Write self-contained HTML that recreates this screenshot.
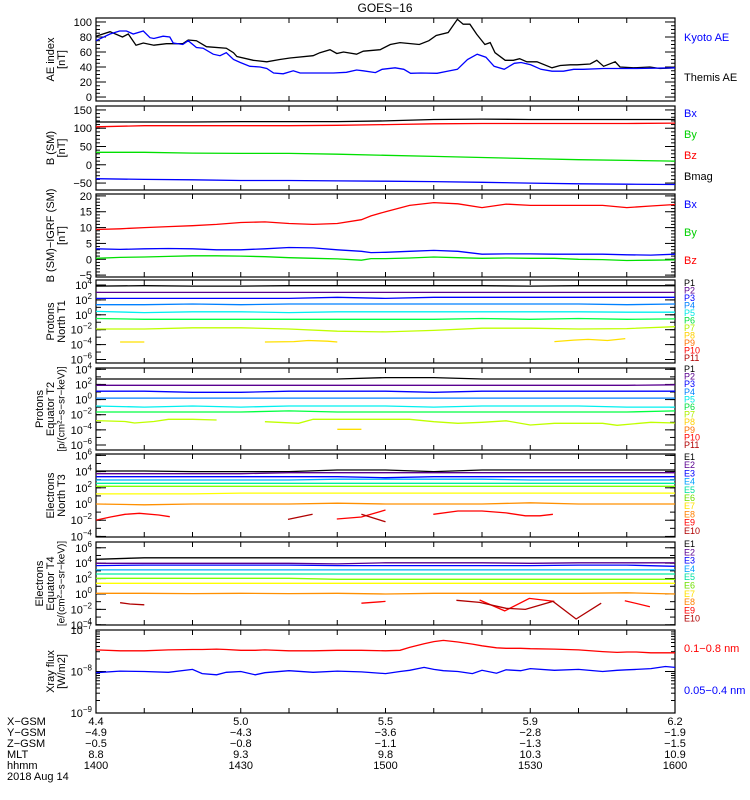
<!DOCTYPE html>
<html><head><meta charset="utf-8">
<style>
html,body{margin:0;padding:0;background:#fff;width:750px;height:800px;overflow:hidden}
svg{display:block;font-family:"Liberation Sans",sans-serif}
</style></head>
<body>
<svg id="chart" width="750" height="800" viewBox="0 0 750 800" xmlns="http://www.w3.org/2000/svg">
<text x="385" y="12" font-size="12" text-anchor="middle">GOES−16</text>
<g id="panels"></g>
<g id="bottom" font-size="11">
<text x="7" y="725">X−GSM</text>
<text x="7" y="736">Y−GSM</text>
<text x="7" y="747">Z−GSM</text>
<text x="7" y="758">MLT</text>
<text x="7" y="769">hhmm</text>
<text x="7" y="780">2018 Aug 14</text>
</g>
</svg>
<script>
// ---------- data ----------
const tickTimes = [0,30,60,90,120];
const xgsmLabels = ["4.4","5.0","5.5","5.9","6.2"];
const ygsmLabels = ["−4.9","−4.3","−3.6","−2.8","−1.9"];
const zgsmLabels = ["−0.5","−0.8","−1.1","−1.3","−1.5"];
const mltLabels = ["8.8","9.3","9.8","10.3","10.9"];
const hhmmLabels = ["1400","1430","1500","1530","1600"];

const themisT = [0,2.9,5.5,6.7,8.3,9.8,12,14.6,18,19.1,20.8,22.9,27,28.5,29.2,32.6,35.4,38.1,40.2,45,46.4,48.5,49.9,51.3,54,55.4,58.9,61,63,67,69,70.5,73,74.9,76.1,77.5,78.9,80.6,81.7,82.7,84.8,86.5,87.8,89.3,91.4,94.5,96.2,98.3,99.7,102.4,103.8,105.2,107.6,108.6,111.4,114.8,116.9,120];
const themisV = [81,87,80,84,69,72,69,71,71,76,75,67,65,59,54,49,47,50,52,55,59,63,58,60,57,61,63,70,72.5,70,75,82,86,103.6,97,97,83.6,70,72.5,59,49,49,51,47,47,39,42,43,43,44,49,41,47,40,39,40,38,39];
const kyotoT = [0,2.9,4.9,6.3,7.7,9.8,11.2,12,13.9,15.3,16,18,19.1,20.8,22.2,24.3,25.7,27,28.5,29.9,31.9,34,35.4,36.8,38.8,40.9,42.3,45.7,49.2,51.9,54,55.4,57.9,59.3,62,63.8,65.2,67.3,70.7,72.8,74.9,77,79,80.8,82.5,84.6,86.7,88.1,90.1,92.2,94.5,96.9,99,101,105.2,112.1,120];
const kyotoV = [75,84,88,88,84,88,79,78,81,80,72,70,75,66,65,57,55,59,50,46,41,40,38,32,31,35,32,32,32,33,36,35,32.5,37,39,37,31.6,32,31.6,34.4,37,50,57,53,41,37,45,46,43,37,34.4,34.4,37,37,38,38,39];

const gridT = [0,10,20,30,40,50,60,70,80,90,100,110,120];
const bmagV = [117,117,117,118,118,118,120,124,125,124,124,124,124];
const bxV = [-38,-40,-41,-43,-43,-44,-45,-46,-48,-50,-52,-53,-54];
const byV = [34,34,32,31,31,29,26,23,20,17,14,12,10];
const bzV = [104,107,107,107,107,108,110,112,113,113,113,113,114];

const dT = [0,5,10,15,20,25,30,35,40,45,50,55,57,60,65,70,75,80,85,90,95,100,105,110,115,120];
const dBzV = [9.4,9.6,10,10.3,10.6,11,11.6,11.8,11.3,11,11.3,12.5,13.7,15,17,17.9,17.5,16.3,17.4,17,17,17,17,16.3,16.8,17.3];
const dBxV = [3.3,3.1,3.3,3.4,3.3,3.0,3.0,3.3,3.7,3.6,3.0,2.5,2.1,2.2,2.5,2.8,2.5,1.6,1.7,1.7,1.6,1.6,1.6,1.4,1.3,1.6];
const dByV = [0.3,0.6,0.7,0.9,1.1,1.1,1.0,0.8,0.5,0.3,0.1,-0.3,0.2,0.2,0.4,0.7,0.5,0.3,0.4,0.3,0.3,0.0,-0.1,-0.4,-0.3,-0.2];

// log10 flux values
const t1P1 = [3.85,3.9,3.85,3.85,3.9,3.9,3.9,3.9,3.9,3.85,3.9,3.9,3.9];
const t1P2 = [3,3,3,3,3,3,3,3,3,3,3,3,3];
const t1P3 = [2.2,2.2,2.2,2.2,2.2,2.35,2.2,2.35,2.35,2.35,2.35,2.35,2.35];
const t1P4 = [1.35,1.35,1.45,1.35,1.45,1.45,1.45,1.45,1.45,1.45,1.45,1.35,1.45];
const t1P5 = [0.45,0.3,0.4,0.4,0.3,0.4,0.4,0.4,0.4,0.4,0.4,0.35,0.35];
const t1P6 = [-0.5,-0.6,-0.6,-0.6,-0.6,-0.6,-0.6,-0.6,-0.5,-0.6,-0.5,-0.6,-0.55];
const t1P7 = [-1.9,-1.9,-1.75,-1.75,-1.9,-2.2,-2.3,-2.1,-1.8,-1.8,-1.9,-1.85,-1.6];
const t1P8T = [5,10,null,35,41,44,48,50,null,95,99,102,106,109.7];
const t1P8V = [-3.65,-3.65,null,-3.65,-3.6,-3.45,-3.55,-3.65,null,-3.6,-3.4,-3.3,-3.45,-3.2];

const t2P1 = [2.72,2.72,2.72,2.72,2.72,2.72,2.9,2.9,2.72,2.72,2.72,2.72,2.72];
const t2P2 = [1.88,1.88,1.88,1.88,1.88,1.88,1.88,1.88,1.88,1.88,1.88,1.88,1.95];
const t2P3 = [1.1,1.1,0.96,0.96,1.1,1.1,1.1,0.96,1.1,1.1,1.1,1.1,1.1];
const t2P4 = [0.2,0.2,0.2,0.2,0.2,0.2,0.2,0.2,0.2,0.2,0.2,0.2,0.2];
const t2P5 = [-0.85,-1.0,-0.85,-1.0,-0.85,-0.85,-0.85,-1.0,-0.85,-0.85,-0.85,-1.0,-1.0];
const t2P6 = [-1.64,-1.64,-1.64,-1.64,-1.5,-1.64,-1.64,-1.64,-1.64,-1.64,-1.64,-1.64,-1.5];
const t2P7T = [0,6,8,12,15,20,25,null,35,42,45,55,65,70,75,80,85,90,95,105,108,115,120];
const t2P7V = [-2.78,-2.9,-3.1,-2.9,-2.6,-2.6,-2.7,null,-2.92,-3.13,-2.6,-2.6,-2.6,-2.92,-3.13,-3.0,-2.8,-3.36,-3.13,-3.13,-3.4,-3.0,-3.1];
const t2P8T = [50,55];
const t2P8V = [-3.93,-3.93];

const t3E1 = [4.07,4.07,4.0,4.0,4.0,4.2,4.2,4.0,4.2,4.2,4.2,4.2,4.2];
const t3E2 = [3.74,3.74,3.74,3.74,3.86,3.86,3.86,3.86,3.86,3.86,3.86,3.86,3.86];
const t3E3 = [3.37,3.37,3.37,3.37,3.37,3.37,3.25,3.37,3.37,3.37,3.37,3.37,3.37];
const t3E4 = [2.96,2.96,2.96,2.96,2.96,3.06,3.06,3.06,3.06,2.96,2.96,2.96,2.96];
const t3E5 = [2.55,2.55,2.55,2.55,2.55,2.55,2.55,2.55,2.55,2.55,2.55,2.55,2.55];
const t3E6 = [2.18,2.18,2.18,2.18,2.18,2.18,2.18,2.18,2.18,2.18,2.18,2.18,2.18];
const t3E7 = [1.25,1.25,1.25,1.35,1.35,1.35,1.35,1.35,1.35,1.35,1.35,1.35,1.35];
const t3E8 = [0,-0.1,0,0,0,0.1,0,0,0,0.15,0,0,0];
const t3E9T = [0,3,6,9,13,15.3,null,49.9,55,60,null,69.9,75,80,85,89,92,94.7];
const t3E9V = [-1.98,-1.6,-1.27,-1.15,-1.35,-1.56,null,-1.85,-1.6,-0.74,null,-1.27,-0.86,-0.86,-1.1,-1.45,-1.45,-1.27];
const t3E10T = [39.8,44.9,null,55,60];
const t3E10V = [-1.9,-1.27,null,-1.27,-2.2];

const t4E1 = [4.5,4.7,4.7,4.7,4.7,4.7,4.7,4.7,4.7,4.7,4.7,4.7,4.7];
const t4E2 = [3.98,3.98,3.98,3.98,3.98,3.9,4.05,4.05,4.05,3.98,4.05,4.05,4.05];
const t4E3 = [3.68,3.75,3.75,3.75,3.75,3.68,3.68,3.68,3.68,3.68,3.75,3.75,3.6];
const t4E4 = [3.12,3.12,3.12,3.12,3.12,3.12,3.12,3.12,3.12,3.12,3.12,3.12,3.12];
const t4E5 = [2.6,2.6,2.6,2.6,2.6,2.6,2.6,2.6,2.6,2.6,2.6,2.6,2.6];
const t4E6 = [2.04,2.04,2.04,2.04,2.04,1.9,1.9,1.9,1.9,1.9,1.9,1.9,1.9];
const t4E7 = [1.39,1.39,1.39,1.39,1.39,1.39,1.39,1.39,1.39,1.39,1.39,1.39,1.39];
const t4E8 = [0.09,0.09,0.05,0.09,0.05,0.09,0.0,0.09,0.09,0.09,0.09,0.15,0.0];
const t4E9T = [55,60,null,79.5,84.7,89.8,95,null,109.6,114.8];
const t4E9V = [-1.2,-0.96,null,-0.78,-2.2,-0.57,-0.96,null,-0.87,-1.65];
const t4E10T = [5,7,10,null,74.7,79.5,85,89,94.7,99.5,104.7];
const t4E10V = [-1.13,-1.3,-1.4,null,-0.82,-1.1,-1.86,-2.0,-0.96,-3.25,-1.2];

const xrayT = [0,5,10,15,20,22,25,27,30,33,35,40,45,50,55,60,63,65,68,70,72,75,78,80,83,85,88,90,95,100,105,108,110,112,115,118,120];
const xrayLongV = [-7.48,-7.5,-7.5,-7.48,-7.47,-7.47,-7.46,-7.47,-7.49,-7.49,-7.48,-7.5,-7.5,-7.49,-7.49,-7.5,-7.49,-7.42,-7.33,-7.28,-7.25,-7.29,-7.34,-7.38,-7.43,-7.44,-7.44,-7.45,-7.46,-7.48,-7.52,-7.54,-7.53,-7.53,-7.55,-7.55,-7.55];
const xrayShortV = [-8.03,-7.99,-8.0,-8.02,-7.95,-8.05,-8.08,-8.02,-8.0,-8.08,-8.03,-7.98,-8.02,-7.99,-8.01,-8.05,-8.0,-7.97,-7.9,-7.95,-7.98,-8.0,-8.05,-7.97,-8.04,-7.96,-7.98,-7.93,-7.97,-7.95,-8.0,-7.97,-7.96,-7.95,-7.93,-7.88,-7.9];

// ---------- layout ----------
const X0 = 96, X1 = 675;
const panels = [
 {top:18, bot:101, min:-5.3, max:105.3, type:'lin', major:20, minor:5, lo:0, hi:100},
 {top:106, bot:190, min:-69, max:160.8, type:'lin', major:50, minor:10, lo:-50, hi:150},
 {top:194, bot:277, min:-5.6, max:20.6, type:'lin', major:5, minor:1, lo:-5, hi:20},
 {top:280, bot:363, min:-6.47, max:4.67, type:'log', lo:-6, hi:4},
 {top:368, bot:450, min:-6.66, max:4.17, type:'log', lo:-6, hi:4},
 {top:454, bot:537, min:-4.07, max:6.17, type:'log', lo:-4, hi:6},
 {top:542, bot:625, min:-4.03, max:6.75, type:'log', lo:-4, hi:6},
 {top:630, bot:713, min:-9, max:-7, type:'xlog', lo:-9, hi:-7}
];
const titles = [
 ["AE index","[nT]"],["B (SM)","[nT]"],["B (SM)−IGRF (SM)","[nT]"],
 ["Protons","North T1"],["Protons","Equator T2","[p/(cm²−s−sr−keV)]"],
 ["Electrons","North T3"],["Electrons","Equator T4","[e/(cm²−s−sr−keV)]"],
 ["Xray flux","[W/m2]"]
];
const NS = "http://www.w3.org/2000/svg";
const root = document.getElementById('panels');
function xOf(t){ return X0 + t*(X1-X0)/120; }
function yOf(p,v){ return p.top + (p.max-v)/(p.max-p.min)*(p.bot-p.top); }
function mk(tag, attrs, parent){
  const e = document.createElementNS(NS, tag);
  for (const k in attrs) e.setAttribute(k, attrs[k]);
  (parent||root).appendChild(e); return e;
}

panels.forEach((p,i)=>{
  const g = mk('g',{});
  
  
  const fr = mk('rect',{x:X0,y:p.top,width:X1-X0,height:p.bot-p.top,fill:'none',stroke:'#000','stroke-width':1.2},g);
  
  
  for(let t=0;t<=120;t+=10){
    const x = xOf(t);
    mk('line',{x1:x,x2:x,y1:p.bot,y2:p.bot-5,stroke:'#000'},g);
    mk('line',{x1:x,x2:x,y1:p.top,y2:p.top+5,stroke:'#000'},g);
  }
  const tick = (v,len)=>{
    const y = yOf(p,v);
    mk('line',{x1:X0,x2:X0+len,y1:y,y2:y,stroke:'#000'},g);
    mk('line',{x1:X1,x2:X1-len,y1:y,y2:y,stroke:'#000'},g);
  };
  const label = (v,html)=>{
    const y = yOf(p,v);
    const t = mk('text',{x:92,y:y+4,'font-size':11,'text-anchor':'end'},g);
    t.innerHTML = html;
    
    
  };
  if(p.type==='lin'){
    for(let v=p.lo; v<=p.hi+1e-9; v+=p.minor) tick(v, 4);
    for(let v=p.lo; v<=p.hi+1e-9; v+=p.major){ tick(v,10); label(v, String(v).replace('-','−')); }
  } else if(p.type==='log'){
    for(let v=Math.ceil(p.min); v<=p.max; v++) tick(v,5);
    for(let v=p.lo; v<=p.hi; v+=2){ tick(v,10); label(v, '10<tspan dy="-5" font-size="8">'+String(v).replace('-','−')+'</tspan>'); }
  } else {
    for(let d=p.lo; d<p.hi; d++) for(let m=2;m<=9;m++) tick(d+Math.log10(m),4);
    for(let v=p.lo; v<=p.hi; v++){ tick(v,10); label(v, '10<tspan dy="-5" font-size="8">'+String(v).replace('-','−')+'</tspan>'); }
  }
  const mid = (p.top+p.bot)/2;
  const n = titles[i].length;
  titles[i].forEach((s,k)=>{
    const tx = (n===3 ? 40 : 51) + k*11;
    const t = mk('text',{x:tx,y:mid,'font-size':(k===2?10:11),'text-anchor':'middle','dominant-baseline':'central',transform:'rotate(-90 '+tx+' '+mid+')'},g);
    t.textContent = s;
    
    
  });
});

function series(pi, T, V, color, name){
  const p = panels[pi];
  let d = '', pen = false;
  for(let k=0;k<T.length;k++){
    if(T[k]===null || V[k]===null){ pen=false; continue; }
    d += (pen?'L':'M') + xOf(T[k]).toFixed(1) + ' ' + yOf(p,V[k]).toFixed(1);
    pen = true;
  }
  const e = mk('path',{d:d,fill:'none',stroke:color,'stroke-width':1.3});
  
  
}
function legend(x,y,txt,color,size){
  const t = mk('text',{x:x,y:y,fill:color,'font-size':size||11});
  t.textContent = txt;
  
  
}

series(0, themisT, themisV, '#000', 'themis-ae-line');
series(0, kyotoT, kyotoV, '#0000ff', 'kyoto-ae-line');
legend(684,41,'Kyoto AE','#0000ff'); legend(684,81,'Themis AE','#000');

series(1, gridT, bmagV, '#000', 'bmag-line');
series(1, gridT, bzV, '#ff0000', 'bz-line');
series(1, gridT, byV, '#00e000', 'by-line');
series(1, gridT, bxV, '#0000ff', 'bx-line');
legend(684,117,'Bx','#0000ff'); legend(684,138,'By','#00d000'); legend(684,159,'Bz','#ff0000'); legend(684,180,'Bmag','#000');

series(2, dT, dBzV, '#ff0000', 'dbz-line');
series(2, dT, dBxV, '#0000ff', 'dbx-line');
series(2, dT, dByV, '#00e000', 'dby-line');
legend(684,208,'Bx','#0000ff'); legend(684,236,'By','#00d000'); legend(684,264,'Bz','#ff0000');

const pCols = ['#000','#5a0090','#0000ff','#0080ff','#00f0f0','#00ff40','#c0ff00','#ffe000','#ff8000','#ff0000','#b00000'];
const eCols = ['#000','#5a0090','#0000ff','#00b0ff','#00f0a0','#80ff00','#ffff00','#ff9000','#ff0000','#b00000'];
[t1P1,t1P2,t1P3,t1P4,t1P5,t1P6,t1P7].forEach((v,k)=>series(3, gridT, v, pCols[k], 'proton-t1-p'+(k+1)));
series(3, t1P8T, t1P8V, pCols[7], 'proton-t1-p8');
[t2P1,t2P2,t2P3,t2P4,t2P5,t2P6].forEach((v,k)=>series(4, gridT, v, pCols[k], 'proton-t2-p'+(k+1)));
series(4, t2P7T, t2P7V, pCols[6], 'proton-t2-p7');
series(4, t2P8T, t2P8V, pCols[7], 'proton-t2-p8');
[t3E1,t3E2,t3E3,t3E4,t3E5,t3E6,t3E7,t3E8].forEach((v,k)=>series(5, gridT, v, eCols[k], 'electron-t3-e'+(k+1)));
series(5, t3E9T, t3E9V, eCols[8], 'electron-t3-e9');
series(5, t3E10T, t3E10V, eCols[9], 'electron-t3-e10');
[t4E1,t4E2,t4E3,t4E4,t4E5,t4E6,t4E7,t4E8].forEach((v,k)=>series(6, gridT, v, eCols[k], 'electron-t4-e'+(k+1)));
series(6, t4E9T, t4E9V, eCols[8], 'electron-t4-e9');
series(6, t4E10T, t4E10V, eCols[9], 'electron-t4-e10');
series(7, xrayT, xrayLongV, '#ff0000', 'xray-long-line');
series(7, xrayT, xrayShortV, '#0000ff', 'xray-short-line');

const pLegCols = ['#000','#5a0090','#0000ff','#0080ff','#00e8e8','#00e040','#b0f000','#ffd000','#ff7000','#ff0000','#b00000'];
for(let k=0;k<11;k++){ legend(684, 286+k*7.5, 'P'+(k+1), pLegCols[k], 9); legend(684, 372+k*7.6, 'P'+(k+1), pLegCols[k], 9); }
const eLegCols = ['#000','#5a0090','#0000ff','#00a0ff','#00e0a0','#70e000','#ffe000','#ff8000','#ff0000','#b00000'];
for(let k=0;k<10;k++){ legend(684, 460+k*8.2, 'E'+(k+1), eLegCols[k], 9); legend(684, 547+k*8.3, 'E'+(k+1), eLegCols[k], 9); }
legend(684,652,'0.1−0.8 nm','#ff0000'); legend(684,694,'0.05−0.4 nm','#0000ff');

const bg = document.getElementById('bottom');
[xgsmLabels,ygsmLabels,zgsmLabels,mltLabels,hhmmLabels].forEach((arr,r)=>{
  arr.forEach((s,k)=>{
    const t = document.createElementNS(NS,'text');
    t.setAttribute('x', xOf(tickTimes[k]));
    t.setAttribute('y', 725 + r*11);
    t.setAttribute('text-anchor','middle');
    t.textContent = s;
    
    
    bg.appendChild(t);
  });
});
</script>
</body></html>
